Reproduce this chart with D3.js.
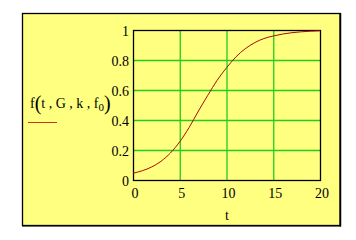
<!DOCTYPE html>
<html>
<head>
<meta charset="utf-8">
<script src="https://cdn.jsdelivr.net/npm/d3@7"></script>
<style>
  body { margin: 0; background: #fff; }
  svg text { font-family: "Liberation Serif", "DejaVu Serif", serif; fill: #000; }
</style>
</head>
<body>
<svg id="chart" width="356" height="240"></svg>
<script>
// values
const tValues = [0, 1, 2, 3, 4, 5, 6, 7, 8, 9, 10, 11, 12, 13, 14, 15, 16, 17, 18, 19, 20]
const fValues = [0.045, 0.062, 0.087, 0.125, 0.18, 0.255, 0.35, 0.46, 0.565, 0.665, 0.748, 0.82, 0.875, 0.915, 0.943, 0.96, 0.973, 0.982, 0.988, 0.992, 0.995]
const xTicks = [0, 5, 10, 15, 20]
const yTicks = [0, 0.2, 0.4, 0.6, 0.8, 1]
const xLabel = 't'

const svg = d3.select('#chart')

// frame
svg.append('rect')
  .attr('x', 22.5).attr('y', 13.5)
  .attr('width', 317.5).attr('height', 212)
  .attr('fill', '#ffff80')
  .attr('stroke', '#000').attr('stroke-width', 1.3)
svg.append('line').attr('x1', 340.5).attr('x2', 340.5).attr('y1', 13).attr('y2', 226.5)
  .attr('stroke', '#000').attr('stroke-width', 1.5)
svg.append('line').attr('x1', 22).attr('x2', 341).attr('y1', 225.8).attr('y2', 225.8)
  .attr('stroke', '#000').attr('stroke-width', 1.5)

const x = d3.scaleLinear().domain([0, 20]).range([133, 320])
const y = d3.scaleLinear().domain([0, 1]).range([180, 30])

// grid
svg.append('g').selectAll('line').data(xTicks.slice(1, -1)).enter().append('line')
  .attr('x1', d => x(d) + 0.5).attr('x2', d => x(d) + 0.5)
  .attr('y1', y(1)).attr('y2', y(0))
  .attr('stroke', '#22cc22').attr('stroke-width', 1.3)
svg.append('g').selectAll('line').data(yTicks.slice(1, -1)).enter().append('line')
  .attr('x1', x(0)).attr('x2', x(20))
  .attr('y1', d => y(d) + 0.5).attr('y2', d => y(d) + 0.5)
  .attr('stroke', '#22cc22').attr('stroke-width', 1.3)

// plot box
svg.append('rect')
  .attr('x', x(0) + 0.5).attr('y', y(1) + 0.5)
  .attr('width', x(20) - x(0)).attr('height', y(0) - y(1))
  .attr('fill', 'none').attr('stroke', '#000').attr('stroke-width', 1.3)

// curve
const pts = tValues.map((t, i) => [t, fValues[i]])
svg.append('path')
  .datum(pts)
  .attr('d', d3.line().x(d => x(d[0])).y(d => y(d[1])).curve(d3.curveMonotoneX))
  .attr('fill', 'none').attr('stroke', '#a80a0a').attr('stroke-width', 1)

// tick labels
svg.append('g').selectAll('text').data(yTicks).enter().append('text')
  .attr('x', 129).attr('y', d => y(d) + 6)
  .attr('text-anchor', 'end').attr('font-size', 14)
  .text(d => d3.format('~g')(d))
svg.append('g').selectAll('text').data(xTicks).enter().append('text')
  .attr('x', d => x(d) + 2).attr('y', 198)
  .attr('text-anchor', 'middle').attr('font-size', 14)
  .text(d => d)
svg.append('text').attr('x', 227).attr('y', 220)
  .attr('text-anchor', 'middle').attr('font-size', 14).text(xLabel)

// legend label
const lab = svg.append('text').attr('x', 30).attr('y', 108).attr('font-size', 14)
lab.append('tspan').text('f')
lab.append('tspan').attr('font-size', 20).attr('dy', 1.5).text('(')
lab.append('tspan').attr('font-size', 14).attr('dy', -1.5).text('t , G , k , f')
lab.append('tspan').attr('font-size', 11).attr('dy', 3).text('0')
lab.append('tspan').attr('font-size', 20).attr('dy', -1.5).text(')')

svg.append('line').attr('x1', 28).attr('x2', 57).attr('y1', 122.5).attr('y2', 122.5)
  .attr('stroke', '#c8321e').attr('stroke-width', 1)
</script>
</body>
</html>
